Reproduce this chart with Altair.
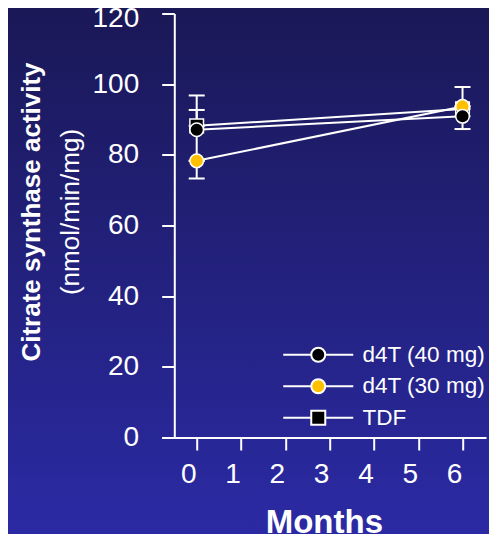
import altair as alt
import pandas as pd

FONT = "Liberation Sans"

# ---- data ----
series = ["d4T (40 mg)", "d4T (30 mg)", "TDF"]
months = [0, 6]
d4t40 = [87.1, 90.9]
d4t30 = [78.3, 93.7]
tdf = [88.2, 93.0]
# error bar extents (low, high) per series and month
d4t40_lo = [78.3, 87.3]
d4t40_hi = [92.7, 90.9]
d4t30_lo = [73.3, 93.7]
d4t30_hi = [78.3, 93.7]
tdf_lo = [88.2, 93.0]
tdf_hi = [96.8, 99.2]

x_ticks = [0, 1, 2, 3, 4, 5, 6]
y_ticks = [0, 20, 40, 60, 80, 100, 120]

rows = []
# draw order: TDF first (bottom), then d4T 30, then d4T 40 on top
for name, vals, lo, hi in [("TDF", tdf, tdf_lo, tdf_hi),
                           ("d4T (30 mg)", d4t30, d4t30_lo, d4t30_hi),
                           ("d4T (40 mg)", d4t40, d4t40_lo, d4t40_hi)]:
    for m, v, l, h in zip(months, vals, lo, hi):
        rows.append({"series": name, "month": m, "value": v, "lo": l, "hi": h})
df = pd.DataFrame(rows)

W, H = 324.3, 424
PAD = {"left": 153.7, "top": 5.5, "right": 3, "bottom": 96.5}

xscale = alt.Scale(domain=[-0.79, 6.53], nice=False, zero=False)
yscale = alt.Scale(domain=[0, 120], nice=False, zero=False)

xaxis = alt.Axis(values=x_ticks, title="Months", grid=False, zindex=2,
                 domainColor="white", domainWidth=2, tickColor="white",
                 tickWidth=2, tickSize=12.5, labelColor="white", labelFont=FONT,
                 labelFontSize=28, labelBaseline="alphabetic", labelPadding=32.5,
                 labelOffset=-8.5, labelFlush=False, titleFont=FONT,
                 titleFontSize=33, titleFontWeight="bold", titleColor="white",
                 titleBaseline="alphabetic", titleY=94.5)
yaxis = alt.Axis(values=y_ticks, title=None, grid=False, offset=-12.6, zindex=2,
                 domainColor="white", domainWidth=2, tickColor="white",
                 tickWidth=2, tickSize=12.6, labelColor="white", labelFont=FONT,
                 labelFontSize=28, labelPadding=23,
                 labelOffset={"condition": {"test": "datum.value >= 120",
                                            "value": 4.5},
                              "value": 0})

X = alt.X("month:Q", scale=xscale, axis=xaxis)
Y = alt.Y("value:Q", scale=yscale, axis=yaxis)

base = alt.Chart(df)

bg = alt.Chart(pd.DataFrame({"bg": [0]})).mark_rect(
    color={"gradient": "linear", "x1": 0, "y1": 0, "x2": 0, "y2": 1,
           "stops": [{"offset": 0, "color": "#1a1856"},
                     {"offset": 1, "color": "#2b2aa4"}]}
).encode(x=alt.value(-PAD["left"]), x2=alt.value(W + PAD["right"]),
         y=alt.value(-PAD["top"]), y2=alt.value(H + PAD["bottom"]))

lines = base.mark_line(color="white", strokeWidth=2).encode(
    x=X, y=Y, detail="series:N")

rules = base.mark_rule(color="white", strokeWidth=2).encode(
    x="month:Q", y="lo:Q", y2="hi:Q")
caps_hi = base.mark_tick(color="white", thickness=2, size=16,
                         orient="horizontal", opacity=1).encode(
    x="month:Q", y="hi:Q")
caps_lo = base.mark_tick(color="white", thickness=2, size=16,
                         orient="horizontal", opacity=1).encode(
    x="month:Q", y="lo:Q")

fill_range = ["#000000", "#FFC000", "#000000"]

points = base.mark_point(filled=True, stroke="white", strokeWidth=1.5,
                         opacity=1, size=185).encode(
    x="month:Q", y="value:Q",
    fill=alt.Fill("series:N", scale=alt.Scale(domain=series, range=fill_range),
                  legend=None),
    shape=alt.Shape("series:N",
                    scale=alt.Scale(domain=series,
                                    range=["circle", "circle", "square"]),
                    legend=None),
)

circ_path = "M-5,0H-1M1,0H5M-1,0A1,1,0,1,0,1,0A1,1,0,1,0,-1,0Z"
sq_path = "M-5,0H-1M1,0H5M-1,-1H1V1H-1Z"

leg = alt.Legend(orient="none", legendX=145.3, legendY=330, title=None,
                 labelFont=FONT, labelFontSize=22.5, labelColor="white",
                 symbolSize=196, symbolStrokeColor="white", symbolStrokeWidth=2,
                 labelOffset=33, rowPadding=8.5, padding=0, symbolOpacity=1,
                 zindex=2)

legend_layer = base.mark_point(filled=True, stroke="white", strokeWidth=2,
                               opacity=1).encode(
    x="month:Q", y="value:Q",
    fill=alt.Fill("series:N", scale=alt.Scale(domain=series, range=fill_range),
                  legend=leg),
    shape=alt.Shape("series:N",
                    scale=alt.Scale(domain=series,
                                    range=[circ_path, circ_path, sq_path]),
                    legend=leg),
    stroke=alt.Stroke("series:N",
                      scale=alt.Scale(domain=series,
                                      range=["white", "white", "white"]),
                      legend=leg),
).transform_filter("datum.month < -100")

chart = alt.layer(bg, lines, rules, caps_hi, caps_lo, points, legend_layer).resolve_scale(
    fill="independent", shape="independent", stroke="independent"
).properties(
    width=W, height=H,
    title=alt.TitleParams(text="Citrate synthase activity",
                          subtitle="(nmol/min/mg)", orient="left",
                          anchor="middle", frame="group", font=FONT,
                          fontSize=26, fontWeight="bold", color="white",
                          subtitleFont=FONT, subtitleFontSize=26,
                          subtitleFontWeight="normal", subtitleColor="white",
                          subtitlePadding=13.5, offset=-76, dx=13.5, zindex=2),
    autosize=alt.AutoSizeParams(type="none"),
    padding=PAD,
).configure(background="#2b2aa4").configure_view(stroke=None)

chart.save("out.html", embed_options={"renderer": "svg", "actions": False})
